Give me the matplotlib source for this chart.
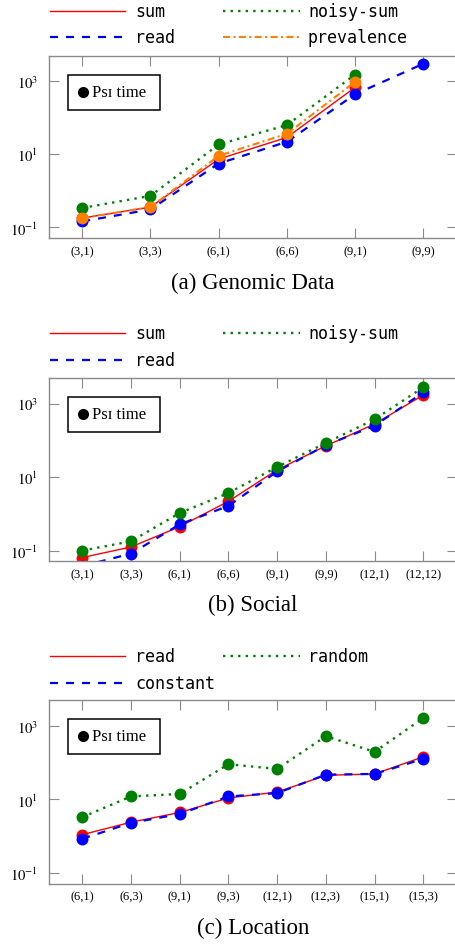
import matplotlib
matplotlib.use("Agg")
import matplotlib.pyplot as plt
from matplotlib.lines import Line2D
from matplotlib.patches import Rectangle

plt.rcParams["font.family"] = ["Liberation Serif", "DejaVu Serif"]
plt.rcParams["mathtext.fontset"] = "stix"

W, H = 456, 945

# ---- data (seconds, log scale) ----
genomic_labels = ["(3,1)", "(3,3)", "(6,1)", "(6,6)", "(9,1)", "(9,9)"]
genomic_sum = [0.18, 0.36, 7.4, 29, 680]
genomic_read = [0.146, 0.31, 5.6, 22, 440, 3000]
genomic_noisy = [0.34, 0.73, 18.6, 63, 1520]
genomic_prev = [0.18, 0.36, 9.1, 36.5, 960]

social_labels = ["(3,1)", "(3,3)", "(6,1)", "(6,6)", "(9,1)", "(9,9)", "(12,1)", "(12,12)"]
social_sum = [0.065, 0.126, 0.45, 2.2, 15.8, 71, 280, 1720]
social_read = [0.038, 0.083, 0.52, 1.65, 14.3, 74, 250, 2030]
social_noisy = [0.10, 0.18, 1.06, 3.7, 19, 85, 374, 2790]

location_labels = ["(6,1)", "(6,3)", "(9,1)", "(9,3)", "(12,1)", "(12,3)", "(15,1)", "(15,3)"]
location_read = [1.1, 2.4, 4.4, 10.9, 15.8, 45, 49, 143]
location_const = [0.85, 2.3, 4.0, 12, 14.8, 47, 49, 126]
location_random = [3.3, 12, 14, 90, 67, 520, 195, 1620]

RED, BLUE, GREEN, ORANGE = "#ff0000", "#0000ff", "#008000", "#ff8000"
GRAY = "#8a8a8a"

STYLES = {
    "solid": dict(color=RED, lw=1.0, ls="-"),
    "dashed": dict(color=BLUE, lw=1.6, dashes=(3.6, 3.6)),
    "dotted": dict(color=GREEN, lw=1.7, dashes=(1.0, 2.2)),
    "dashdot": dict(color=ORANGE, lw=1.5, dashes=(3.4, 1.6, 1.0, 1.6)),
}


def fx(px):
    return px / W


def fy(py):
    return 1 - py / H


fig = plt.figure(figsize=(W / 100, H / 100), dpi=100)

panels = [
    dict(top=57, bottom=239, labels=genomic_labels,
         series=[(genomic_sum, "solid"), (genomic_read, "dashed"),
                 (genomic_noisy, "dotted"), (genomic_prev, "dashdot")],
         legend=[[("sum", "solid"), ("noisy-sum", "dotted")],
                 [("read", "dashed"), ("prevalence", "dashdot")]],
         rows=(12, 38.3), caption="(a) Genomic Data", cap_y=283),
    dict(top=379.3, bottom=562.3, labels=social_labels,
         series=[(social_sum, "solid"), (social_read, "dashed"),
                 (social_noisy, "dotted")],
         legend=[[("sum", "solid"), ("noisy-sum", "dotted")],
                 [("read", "dashed")]],
         rows=(334, 361), caption="(b) Social", cap_y=605),
    dict(top=701.3, bottom=884.7, labels=location_labels,
         series=[(location_read, "solid"), (location_const, "dashed"),
                 (location_random, "dotted")],
         legend=[[("read", "solid"), ("random", "dotted")],
                 [("constant", "dashed")]],
         rows=(657.3, 684), caption="(c) Location", cap_y=928.3),
]

LEFT, RIGHT, MARGIN = 49, 456.6, 33.3

for p in panels:
    ax = fig.add_axes([fx(LEFT), fy(p["bottom"]), (RIGHT - LEFT) / W,
                       (p["bottom"] - p["top"]) / H])
    n = len(p["labels"])
    xs = list(range(n))
    for vals, style in p["series"]:
        st = STYLES[style]
        line, = ax.plot(xs[:len(vals)], vals, color=st["color"], lw=st["lw"],
                        marker="o", markersize=8.6, markeredgewidth=0)
        if "dashes" in st:
            line.set_dashes(st["dashes"])
    ax.set_yscale("log")
    ax.set_ylim(10 ** -1.29, 10 ** 3.69)
    step = (RIGHT - LEFT - 2 * MARGIN) / (n - 1)
    m = MARGIN / step
    ax.set_xlim(-m, n - 1 + m)
    ax.set_xticks(xs)
    ax.set_xticklabels(p["labels"], fontsize=9)
    ax.set_yticks([0.1, 10, 1000])
    ax.set_yticklabels(["$10^{-1}$", "$10^{1}$", "$10^{3}$"], fontsize=10.5)
    ax.yaxis.set_minor_locator(matplotlib.ticker.NullLocator())
    ax.tick_params(axis="x", direction="in", length=7.5, width=0.8,
                   color=GRAY, top=True, pad=5)
    ax.tick_params(axis="y", direction="in", length=7.5, width=0.8,
                   color=GRAY, right=True, pad=8)
    for s in ax.spines.values():
        s.set_color(GRAY)
        s.set_linewidth(1.0)

    # Psi time box
    bt = p["top"] + 18.5
    fig.add_artist(Rectangle((fx(68.5), fy(bt + 35)), 91.5 / W, 35 / H,
                             transform=fig.transFigure, fill=False,
                             edgecolor="black", lw=1.1))
    fig.add_artist(Line2D([fx(82.5)], [fy(bt + 17)], marker="o", color="black",
                          markersize=8, markeredgewidth=0,
                          transform=fig.transFigure))
    fig.text(fx(92), fy(bt + 17.5), "Psɪ time", fontsize=12, va="center",
             ha="left")

    # legend above axes
    for row_y, row in zip(p["rows"], p["legend"]):
        for (label, style), (x0, x1, xt) in zip(row, [(50, 125, 135), (223, 300, 308)]):
            st = STYLES[style]
            ln = Line2D([fx(x0), fx(x1)], [fy(row_y), fy(row_y)], color=st["color"],
                        lw=st["lw"], transform=fig.transFigure)
            if "dashes" in st:
                ln.set_dashes(st["dashes"])
            fig.add_artist(ln)
            fig.text(fx(xt), fy(row_y), label, fontsize=12, va="center",
                     ha="left", family="DejaVu Sans Mono")

    fig.text(fx(252.7), fy(p["cap_y"]), p["caption"], fontsize=16.5,
             ha="center", va="center")

fig.savefig("out.png", dpi=100)
